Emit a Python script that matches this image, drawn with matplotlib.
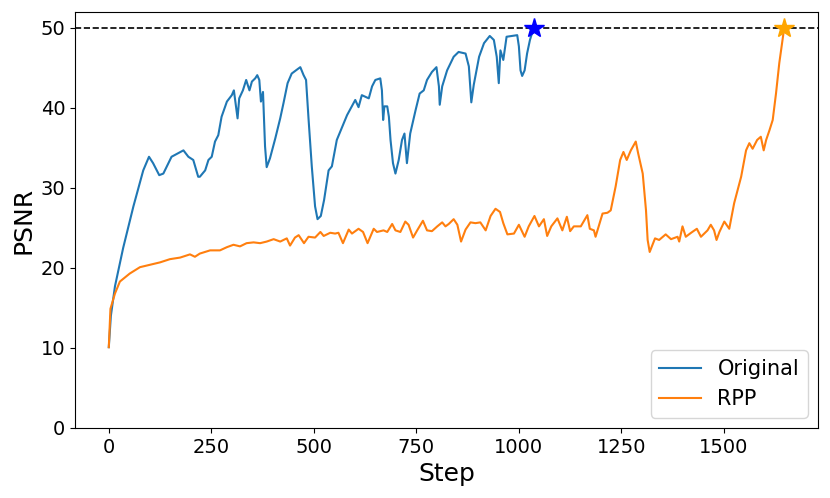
import numpy as np
import matplotlib
matplotlib.use('Agg')
import matplotlib.pyplot as plt

# values (step, PSNR)
orig_step = [0, 5, 15, 35, 60, 84, 98, 108, 123, 133, 153, 182, 194, 206, 218,
             222, 235, 243, 251, 259, 267, 275, 288, 300, 305, 314, 318, 327, 335,
             343, 349, 357, 362, 367, 371, 376, 381, 385, 393, 406, 418, 426, 436,
             446, 459, 467, 475, 481, 487, 495, 503, 509, 517, 525, 536, 544, 556,
             581, 601, 609, 617, 634, 642, 650, 662, 666, 669, 672, 679, 683, 687,
             693, 699, 707, 715, 721, 727, 735, 748, 758, 768, 776, 788, 799, 805,
             807, 813, 825, 841, 853, 870, 878, 884, 890, 903, 915, 929, 939, 946,
             951, 955, 962, 970, 996, 1000, 1004, 1008, 1014, 1020, 1027, 1036]
orig_psnr = [10.1, 14.0, 17.7, 22.5, 27.7, 32.2, 33.9, 33.1, 31.6, 31.8, 33.9, 34.7,
             33.9, 33.5, 31.4, 31.4, 32.2, 33.5, 33.9, 35.8, 36.6, 38.9, 40.8, 41.6,
             42.2, 38.7, 41.2, 42.2, 43.5, 42.2, 43.3, 43.7, 44.1, 43.5, 40.8, 42.0,
             35.2, 32.6, 33.7, 36.2, 38.7, 40.6, 43.1, 44.3, 44.8, 45.1, 44.1, 43.5,
             38.7, 32.7, 27.7, 26.1, 26.5, 28.5, 32.2, 32.7, 36.0, 39.1, 41.0, 40.1,
             41.6, 41.2, 42.7, 43.5, 43.7, 42.2, 38.5, 40.2, 40.2, 38.9, 36.0, 33.1,
             31.8, 33.5, 36.0, 36.8, 33.1, 36.8, 39.7, 41.8, 42.2, 43.5, 44.5, 45.1,
             42.7, 40.4, 42.7, 44.7, 46.4, 47.0, 46.8, 45.2, 40.7, 42.9, 46.4, 48.1,
             49.0, 48.5, 46.4, 43.1, 47.2, 46.0, 48.9, 49.1, 47.7, 44.7, 44.0, 44.7,
             46.8, 48.5, 50.0]

rpp_step = [0, 4, 15, 27, 51, 76, 100, 125, 149, 174, 198, 210, 222, 247, 271, 288,
            304, 320, 336, 353, 369, 385, 402, 418, 434, 442, 454, 463, 476, 487,
            503, 516, 524, 540, 552, 560, 571, 585, 593, 609, 620, 631, 646, 654,
            670, 679, 691, 699, 711, 723, 731, 742, 752, 766, 776, 788, 801, 813,
            821, 829, 841, 850, 859, 870, 882, 894, 906, 919, 931, 943, 954, 962,
            972, 988, 1000, 1014, 1024, 1038, 1049, 1061, 1069, 1079, 1094, 1106,
            1117, 1125, 1134, 1151, 1167, 1173, 1183, 1187, 1204, 1216, 1224, 1236,
            1247, 1255, 1263, 1273, 1285, 1291, 1302, 1310, 1314, 1319, 1332, 1342,
            1358, 1371, 1387, 1391, 1399, 1407, 1420, 1434, 1444, 1460, 1468, 1476,
            1482, 1489, 1501, 1513, 1525, 1542, 1554, 1562, 1570, 1581, 1590, 1597,
            1603, 1611, 1619, 1627, 1635, 1647]
rpp_psnr = [10.1, 14.9, 16.8, 18.3, 19.3, 20.1, 20.4, 20.7, 21.1, 21.3, 21.7, 21.4,
            21.8, 22.2, 22.2, 22.6, 22.9, 22.7, 23.1, 23.2, 23.1, 23.3, 23.6, 23.3,
            23.7, 22.8, 23.8, 24.1, 23.1, 23.9, 23.8, 24.5, 24.0, 24.4, 24.3, 24.4,
            23.1, 24.8, 24.3, 24.9, 24.5, 23.1, 24.9, 24.5, 24.7, 24.5, 25.5, 24.7,
            24.5, 25.8, 25.4, 23.8, 24.7, 25.9, 24.7, 24.6, 25.2, 25.7, 25.2, 25.5,
            26.1, 25.4, 23.3, 24.8, 25.7, 25.6, 25.7, 24.7, 26.5, 27.4, 27.0, 25.6,
            24.2, 24.3, 25.4, 23.9, 25.2, 26.5, 25.2, 26.1, 24.0, 25.2, 26.2, 24.7,
            26.4, 24.6, 25.2, 25.2, 26.6, 24.9, 24.7, 23.9, 26.8, 26.9, 27.2, 30.2,
            33.5, 34.5, 33.5, 34.7, 35.8, 34.3, 31.8, 27.2, 23.5, 22.0, 23.7, 23.5,
            24.2, 23.6, 23.9, 23.3, 25.2, 23.9, 24.4, 24.9, 23.9, 24.7, 25.4, 24.7,
            23.5, 24.5, 25.8, 24.9, 28.1, 31.4, 34.7, 35.6, 34.9, 36.0, 36.4, 34.7,
            36.0, 37.2, 38.5, 41.8, 45.6, 50.0]

target = 50

fig = plt.figure(figsize=(8.3, 4.98), dpi=100)
ax = fig.add_axes([0.0904, 0.1406, 0.8951, 0.8354])

ax.plot(orig_step, orig_psnr, lw=1.5, label='Original')
ax.plot(rpp_step, rpp_psnr, lw=1.5, label='RPP')
ax.axhline(target, color='black', ls='--', lw=1.2)
ax.plot(orig_step[-1], orig_psnr[-1], marker='*', color='blue', ms=15)
ax.plot(rpp_step[-1], rpp_psnr[-1], marker='*', color='orange', ms=15)

ax.set_ylim(0, 52)
ax.set_xticks([0, 250, 500, 750, 1000, 1250, 1500])
ax.set_yticks([0, 10, 20, 30, 40, 50])
ax.tick_params(labelsize=14)
ax.set_xlabel('Step', fontsize=18)
ax.set_ylabel('PSNR', fontsize=18)
ax.legend(loc='lower right', fontsize=15)

fig.savefig('out.png')
